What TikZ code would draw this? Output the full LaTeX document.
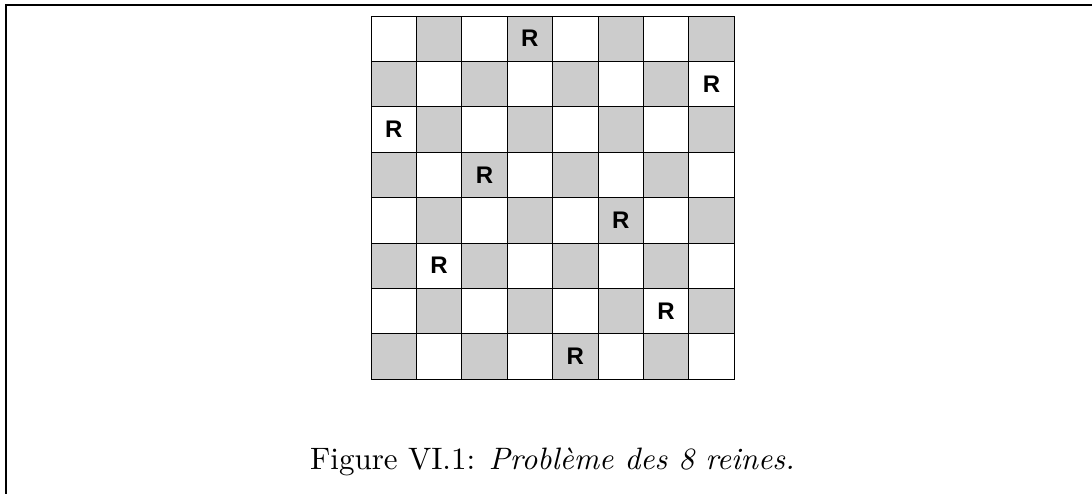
\documentclass[tikz,border=0pt]{standalone}
\usepackage{fontspec}
\newfontfamily\qfont{Liberation Sans}
\newfontfamily\capfont{lmroman10-regular.otf}[ItalicFont=lmroman10-italic.otf]
\definecolor{cellgray}{HTML}{CCCCCC}
\begin{document}
\begin{tikzpicture}[x=1pt,y=-1pt,
  cellw/.style={draw=black,line width=0.9pt,fill=white,minimum size=45.4pt,inner sep=0pt,outer sep=0pt,rectangle},
  cellg/.style={cellw,fill=cellgray},
  queen/.style={inner sep=0pt,font={\qfont\bfseries\fontsize{24}{24}\selectfont}},
  frameline/.style={line width=2pt,black},
  captionstyle/.style={inner sep=0pt,anchor=base west,font={\capfont\fontsize{31}{36}\selectfont}}]
\useasboundingbox (0,0) rectangle (1092,493);
\draw[frameline] (6,494) -- (6,5) -- (1093,5);
\foreach \r in {0,...,7}{
  \foreach \c in {0,...,7}{
    \pgfmathtruncatemacro{\parity}{mod(\r+\c,2)}
    \ifnum\parity=1
      \node[cellg] (c\r\c) at ({371+45.4*\c+22.7},{16+45.4*\r+22.7}) {};
    \else
      \node[cellw] (c\r\c) at ({371+45.4*\c+22.7},{16+45.4*\r+22.7}) {};
    \fi
  }
}
\foreach \r/\c in {0/3,1/7,2/0,3/2,4/5,5/1,6/6,7/4}{
  \node[queen] (q\r) at (c\r\c) {R};
}
\node[captionstyle] (cap) at (310,469.5) {Figure VI.1: \textit{Problème des 8 reines.}};
\end{tikzpicture}
\end{document}
